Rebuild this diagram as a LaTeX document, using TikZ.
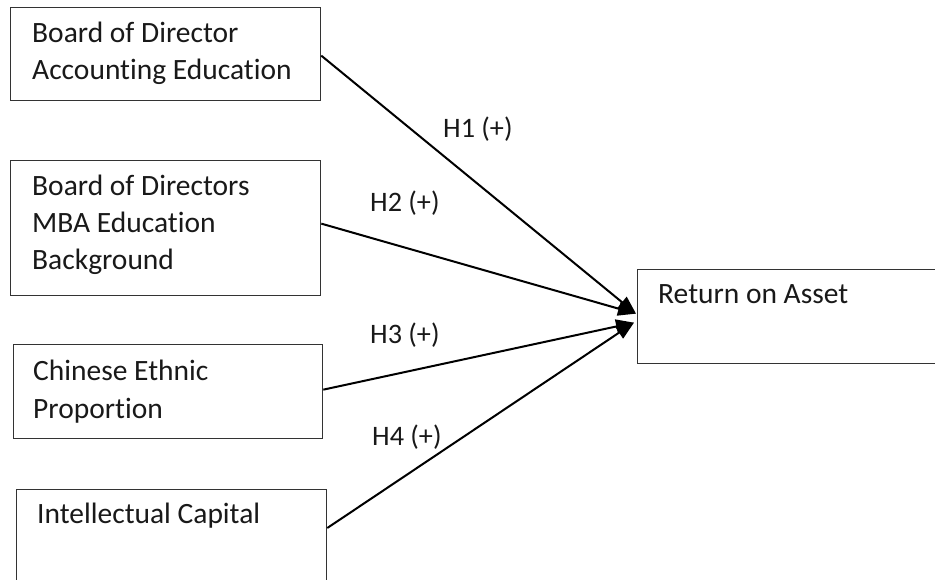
\documentclass[tikz,border=0pt]{standalone}
\usepackage{fontspec}
\setmainfont{Carlito}[Ligatures=NoCommon]
\usetikzlibrary{arrows.meta}
\begin{document}
\begin{tikzpicture}[x=1bp,y=-1bp,
  box/.style={draw=black!80, line width=1.3bp, rectangle, inner sep=0pt, anchor=north west},
  lbl/.style={inner sep=0pt, anchor=base west, align=left, font=\fontsize{29.6}{37.5}\selectfont, text=black!90},
  hlbl/.style={lbl, font=\fontsize{28.3}{37.5}\selectfont},
  arr/.style={line width=2bp, -{Triangle[length=18bp,width=14bp]}}]
\useasboundingbox (0,0) rectangle (935,580);
\clip (0,0) rectangle (935,580);
\fill[white] (0,0) rectangle (935,580);
% boxes
\node[box, minimum width=310bp, minimum height=93bp] (b1) at (10,7) {};
\node[box, minimum width=310bp, minimum height=135bp] (b2) at (10,160) {};
\node[box, minimum width=309bp, minimum height=94bp] (b3) at (13,344) {};
\node[box, minimum width=310bp, minimum height=130bp] (b4) at (16,489) {};
\node[box, minimum width=330bp, minimum height=94bp] (r) at (637,269) {};
% texts (base anchor = baseline of the last line)
\node[lbl] (t1) at (32,80) {Board of Director\\Accounting Education};
\node[lbl] (t2) at (32,270) {Board of Directors\\MBA Education\\Background};
\node[lbl] (t3) at (33,418) {Chinese Ethnic\\Proportion};
\node[lbl] (t4) at (37,523) {Intellectual Capital};
\node[lbl] (tr) at (658,303) {Return on Asset};
% hypotheses labels
\node[hlbl] (h1) at (443,138) {H1 (+)};
\node[hlbl] (h2) at (370,212) {H2 (+)};
\node[hlbl] (h3) at (370,343) {H3 (+)};
\node[hlbl] (h4) at (372,445) {H4 (+)};
% connectors
\draw[arr] ([yshift=-1.5bp]b1.east) -- ([xshift=-1bp,yshift=3bp]r.west);
\draw[arr] ([yshift=4.5bp]b2.east) -- ([xshift=-1bp,yshift=3bp]r.west);
\draw[arr] ([yshift=2bp]b3.east) -- ([xshift=-3bp,yshift=-6bp]r.west);
\draw[arr] ([yshift=-39bp]b4.north east) -- ([xshift=-3bp,yshift=-6bp]r.west);
\end{tikzpicture}
\end{document}
